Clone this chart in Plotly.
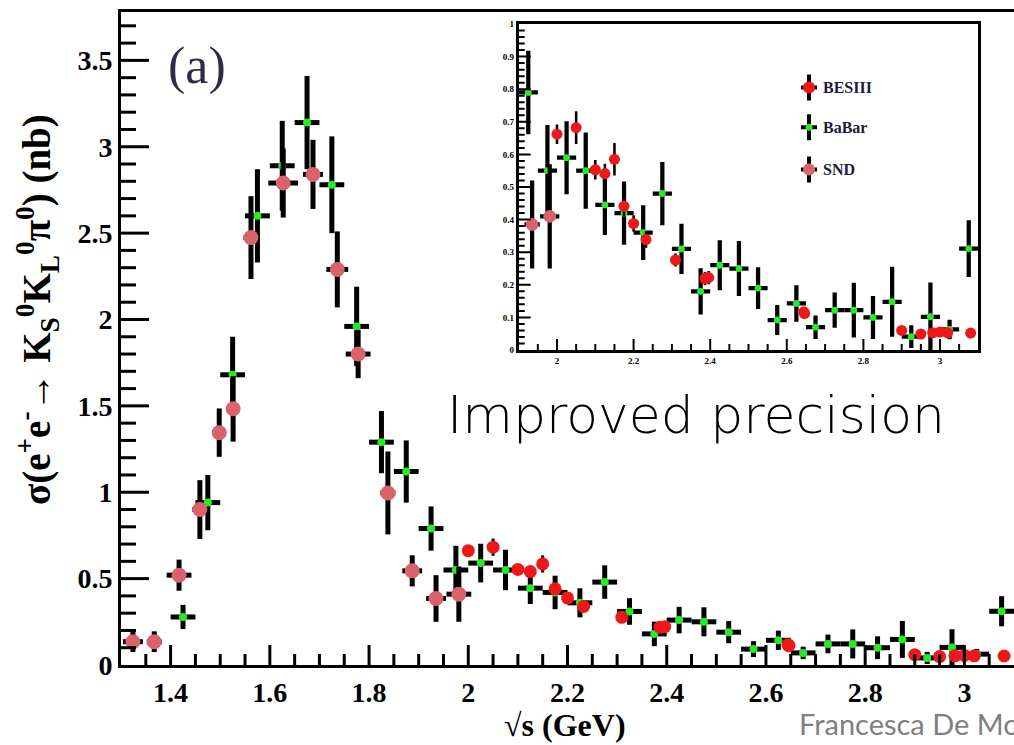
import numpy as np
import plotly.graph_objects as go

# ---------------- data ----------------
# BaBar: bin centres, cross section (nb), stat. error; bins are 50 MeV wide
babar_x = [1.425, 1.475, 1.525, 1.575, 1.625, 1.675, 1.725, 1.775, 1.825, 1.875,
           1.925, 1.975, 2.025, 2.075, 2.125, 2.175, 2.225, 2.275, 2.325, 2.375,
           2.425, 2.475, 2.525, 2.575, 2.625, 2.675, 2.725, 2.775, 2.825, 2.875,
           2.925, 2.975, 3.025, 3.075]
babar_y = [0.278, 0.94, 1.68, 2.60, 2.89, 3.14, 2.78, 1.96, 1.29, 1.12,
           0.79, 0.55, 0.59, 0.55, 0.445, 0.42, 0.36, 0.48, 0.31, 0.18,
           0.26, 0.25, 0.19, 0.092, 0.143, 0.07, 0.122, 0.122, 0.10, 0.148,
           0.041, 0.102, 0.063, 0.311]
babar_err = [0.07, 0.16, 0.22, 0.27, 0.26, 0.27, 0.28, 0.23, 0.18, 0.18,
             0.128, 0.14, 0.112, 0.117, 0.092, 0.097, 0.084, 0.097, 0.077, 0.071,
             0.077, 0.084, 0.064, 0.046, 0.056, 0.036, 0.054, 0.084, 0.066, 0.107,
             0.035, 0.105, 0.03, 0.087]
babar_halfbin = 0.025

# SND
snd_x = [1.324, 1.367, 1.417, 1.459, 1.498, 1.526, 1.562, 1.627, 1.687, 1.736,
         1.778, 1.838, 1.887, 1.935, 1.981]
snd_y = [0.135, 0.135, 0.52, 0.90, 1.345, 1.483, 2.474, 2.79, 2.84, 2.29,
         1.80, 0.996, 0.545, 0.385, 0.41]
snd_err = [0.06, 0.06, 0.09, 0.17, 0.14, 0.19, 0.24, 0.20, 0.20, 0.22,
           0.14, 0.24, 0.09, 0.135, 0.16]
snd_xerr = [0.02, 0.015, 0.025, 0.015, 0.0, 0.0, 0.015, 0.03, 0.02, 0.022,
            0.025, 0.015, 0.02, 0.02, 0.025]

# BESIII
bes_x = [2.000, 2.050, 2.100, 2.125, 2.150, 2.175, 2.200, 2.2324, 2.3094, 2.3864,
         2.396, 2.6444, 2.6464, 2.900, 2.950, 2.981, 3.000, 3.020, 3.080]
bes_y = [0.662, 0.682, 0.553, 0.541, 0.585, 0.441, 0.388, 0.339, 0.276, 0.219,
         0.222, 0.117, 0.112, 0.060, 0.049, 0.053, 0.055, 0.053, 0.052]
bes_err = [0.03, 0.05, 0.03, 0.03, 0.05, 0.03, 0.025, 0.025, 0.02, 0.02,
           0.02, 0.015, 0.015, 0.01, 0.01, 0.01, 0.01, 0.01, 0.01]

legend_names = ["BESIII", "BaBar", "SND"]

# tick labels
main_xticks = [1.4, 1.6, 1.8, 2.0, 2.2, 2.4, 2.6, 2.8, 3.0]
main_yticks = [0, 0.5, 1.0, 1.5, 2.0, 2.5, 3.0, 3.5]
ins_xticks = [2.0, 2.2, 2.4, 2.6, 2.8, 3.0]
ins_yticks = [0, 0.1, 0.2, 0.3, 0.4, 0.5, 0.6, 0.7, 0.8, 0.9, 1.0]

# ---------------- styling ----------------
RED = "rgb(238,24,24)"
GREEN = "rgb(40,235,40)"
SALMON = "rgb(218,98,108)"
SERIF = "Liberation Serif"

W, H = 1014, 745
L, R, T, B = 121, 0, 12, 80
PW, PH = W - L - R, H - T - B

MAIN_X = [1.3, 3.1]
MAIN_Y = [0, 3.78]
INS_X = [1.9, 3.1]
INS_Y = [0, 1]

ix0, ix1 = 518.7, 978.3
iy0, iy1 = 350, 24


def px_x(p):
    return (p - L) / PW


def px_y(p):
    return (H - B - p) / PH


def bold_labels(vals):
    return ["<b>%s</b>" % format(v, "g") for v in vals]


fig = go.Figure()


def tick_values(lo, hi, step):
    n0 = int(np.ceil(lo / step - 1e-6))
    n1 = int(np.floor(hi / step + 1e-6))
    return [round(k * step, 6) for k in range(n0, n1 + 1)]


def is_major(v, major):
    return abs(v / major - round(v / major)) < 1e-6


def add_ticks(xa, ya, rng_x, rng_y, w_px, h_px, xmaj, xmin_, ymaj, ymin_,
              xl, yl, width):
    """ROOT-style inside tick marks (major + minor)."""
    xs, ys = [], []
    per_py = (rng_y[1] - rng_y[0]) / h_px
    for v in tick_values(rng_x[0], rng_x[1], xmin_):
        if v <= rng_x[0] + 1e-6 or v >= rng_x[1] - 1e-6:
            continue
        ln = xl[0] if is_major(v, xmaj) else xl[1]
        xs += [v, v, None]
        ys += [rng_y[0], rng_y[0] + ln * per_py, None]
    per_px = (rng_x[1] - rng_x[0]) / w_px
    for v in tick_values(rng_y[0], rng_y[1], ymin_):
        if v <= rng_y[0] + 1e-6 or v >= rng_y[1] - 1e-6:
            continue
        ln = yl[0] if is_major(v, ymaj) else yl[1]
        xs += [rng_x[0], rng_x[0] + ln * per_px, None]
        ys += [v, v, None]
    fig.add_trace(go.Scatter(x=xs, y=ys, mode="lines", xaxis=xa, yaxis=ya,
                             line=dict(color="black", width=width),
                             hoverinfo="skip", showlegend=False))


def add_all(xa, ya, xmin, xmax, scale):
    bx = np.array(babar_x); by = np.array(babar_y); be = np.array(babar_err)
    m = (bx >= xmin) & (bx <= xmax)
    sx = np.array(snd_x); sy = np.array(snd_y); se = np.array(snd_err); sxe = np.array(snd_xerr)
    ms = (sx >= xmin) & (sx <= xmax)
    ex = np.array(bes_x); ey = np.array(bes_y); ee = np.array(bes_err)
    me = (ex >= xmin) & (ex <= xmax)
    th = 5 * scale
    fig.add_trace(go.Scatter(x=bx[m], y=by[m], mode="markers", xaxis=xa, yaxis=ya,
                             marker=dict(color=GREEN, size=8 * scale, symbol="circle"),
                             error_y=dict(type="data", array=be[m], color="black",
                                          thickness=th, width=0),
                             error_x=dict(type="constant", value=babar_halfbin, color="black",
                                          thickness=th, width=0),
                             name="BaBar", hoverinfo="skip"))
    fig.add_trace(go.Scatter(x=sx[ms], y=sy[ms], mode="markers", xaxis=xa, yaxis=ya,
                             marker=dict(color=SALMON, size=15 * scale),
                             error_y=dict(type="data", array=se[ms], color="black",
                                          thickness=th, width=0),
                             error_x=dict(type="data", array=sxe[ms], color="black",
                                          thickness=th, width=0),
                             name="SND"))
    fig.add_trace(go.Scatter(x=ex[me], y=ey[me], mode="markers", xaxis=xa, yaxis=ya,
                             marker=dict(color=RED, size=13 * scale),
                             error_y=dict(type="data", array=ee[me], color="black",
                                          thickness=3 * scale, width=0),
                             name="BESIII"))


add_all("x", "y", MAIN_X[0], MAIN_X[1], 1.0)
add_ticks("x", "y", MAIN_X, MAIN_Y, PW, PH, 0.2, 0.05, 0.5, 0.1, (20, 11), (28, 15), 3)
add_all("x2", "y2", INS_X[0], INS_X[1], 0.85)
add_ticks("x2", "y2", INS_X, INS_Y, ix1 - ix0, iy0 - iy1, 0.2, 0.05, 0.1, 0.02,
          (11, 6), (12, 6), 2)

tickfont_main = dict(family=SERIF, size=28, color="black")
tickfont_inset = dict(family=SERIF, size=9, color="black")

common = dict(showline=True, linecolor="black", showgrid=False, zeroline=False,
              ticks="", tickmode="array")
fig.update_layout(
    width=W, height=H,
    margin=dict(l=L, r=R, t=T, b=B),
    paper_bgcolor="white", plot_bgcolor="white",
    showlegend=False,
    xaxis=dict(range=MAIN_X, domain=[0, 1], anchor="y", linewidth=3, mirror=True,
               tickvals=main_xticks, ticktext=bold_labels(main_xticks),
               tickfont=tickfont_main, **common),
    yaxis=dict(range=MAIN_Y, domain=[0, 1], anchor="x", linewidth=3, mirror=False,
               tickvals=main_yticks, ticktext=bold_labels(main_yticks),
               tickfont=tickfont_main, **common),
    xaxis2=dict(range=INS_X, domain=[px_x(ix0), px_x(ix1)], anchor="y2", linewidth=3,
                mirror=True, tickvals=ins_xticks, ticktext=bold_labels(ins_xticks),
                tickfont=tickfont_inset, **common),
    yaxis2=dict(range=INS_Y, domain=[px_y(iy0), px_y(iy1)], anchor="x2", linewidth=3,
                mirror=True, tickvals=ins_yticks, ticktext=bold_labels(ins_yticks),
                tickfont=tickfont_inset, **common),
)

# ---------------- inset legend (drawn by hand, ROOT style) ----------------
shapes = []
leg_colors = [RED, GREEN, SALMON]
leg_y = [0.805, 0.683, 0.554]
leg_xc = 2.658
dx_px = (INS_X[1] - INS_X[0]) / (ix1 - ix0)
dy_px = (INS_Y[1] - INS_Y[0]) / (iy0 - iy1)
annotations = []
for name, col, yc in zip(legend_names, leg_colors, leg_y):
    shapes.append(dict(type="line", xref="x2", yref="y2", x0=leg_xc, x1=leg_xc,
                       y0=yc - 13 * dy_px, y1=yc + 13 * dy_px,
                       line=dict(color="black", width=4)))
    shapes.append(dict(type="line", xref="x2", yref="y2",
                       x0=leg_xc - 8 * dx_px, x1=leg_xc + 8 * dx_px, y0=yc, y1=yc,
                       line=dict(color="black", width=4)))
    r = 3.5 if name == "BaBar" else 6
    shapes.append(dict(type="circle", xref="x2", yref="y2",
                       x0=leg_xc - r * dx_px, x1=leg_xc + r * dx_px,
                       y0=yc - r * dy_px, y1=yc + r * dy_px,
                       fillcolor=col, line=dict(width=0)))
    annotations.append(dict(text="<b>" + name + "</b>", xref="x2", yref="y2",
                            x=leg_xc + 12 * dx_px, y=yc,
                            xanchor="left", yanchor="middle", showarrow=False,
                            font=dict(family=SERIF, size=16, color="#1c1c3a")))

# ---------------- titles and labels ----------------
annotations += [
    dict(text="<b>σ(e<sup>+</sup>e<sup>-</sup>→ K<sub>S</sub><sup>0</sup>K<sub>L</sub><sup>0</sup>π<sup>0</sup>) (nb)</b>",
         xref="paper", yref="paper", x=px_x(38), y=px_y(310), textangle=-90,
         xanchor="center", yanchor="middle", showarrow=False,
         font=dict(family=SERIF, size=39, color="black")),
    dict(text="<b>√s (GeV)</b>", xref="paper", yref="paper", x=px_x(565), y=px_y(725),
         xanchor="center", yanchor="middle", showarrow=False,
         font=dict(family=SERIF, size=32, color="black")),
    dict(text="(a)", xref="paper", yref="paper", x=px_x(197), y=px_y(66),
         xanchor="center", yanchor="middle", showarrow=False,
         font=dict(family=SERIF, size=52, color="#2c2c46")),
    dict(text="Improved precision", xref="paper", yref="paper", x=px_x(445), y=px_y(415),
         xanchor="left", yanchor="middle", showarrow=False,
         font=dict(family="DejaVu Sans", size=52, color="black", weight=200)),
    dict(text="Francesca De Mori", xref="paper", yref="paper", x=px_x(797), y=px_y(724),
         xanchor="left", yanchor="middle", showarrow=False,
         font=dict(family="Lato", size=29, color="#7f7f7f")),
]

fig.update_layout(shapes=shapes, annotations=annotations)
fig.write_html("out.html")
